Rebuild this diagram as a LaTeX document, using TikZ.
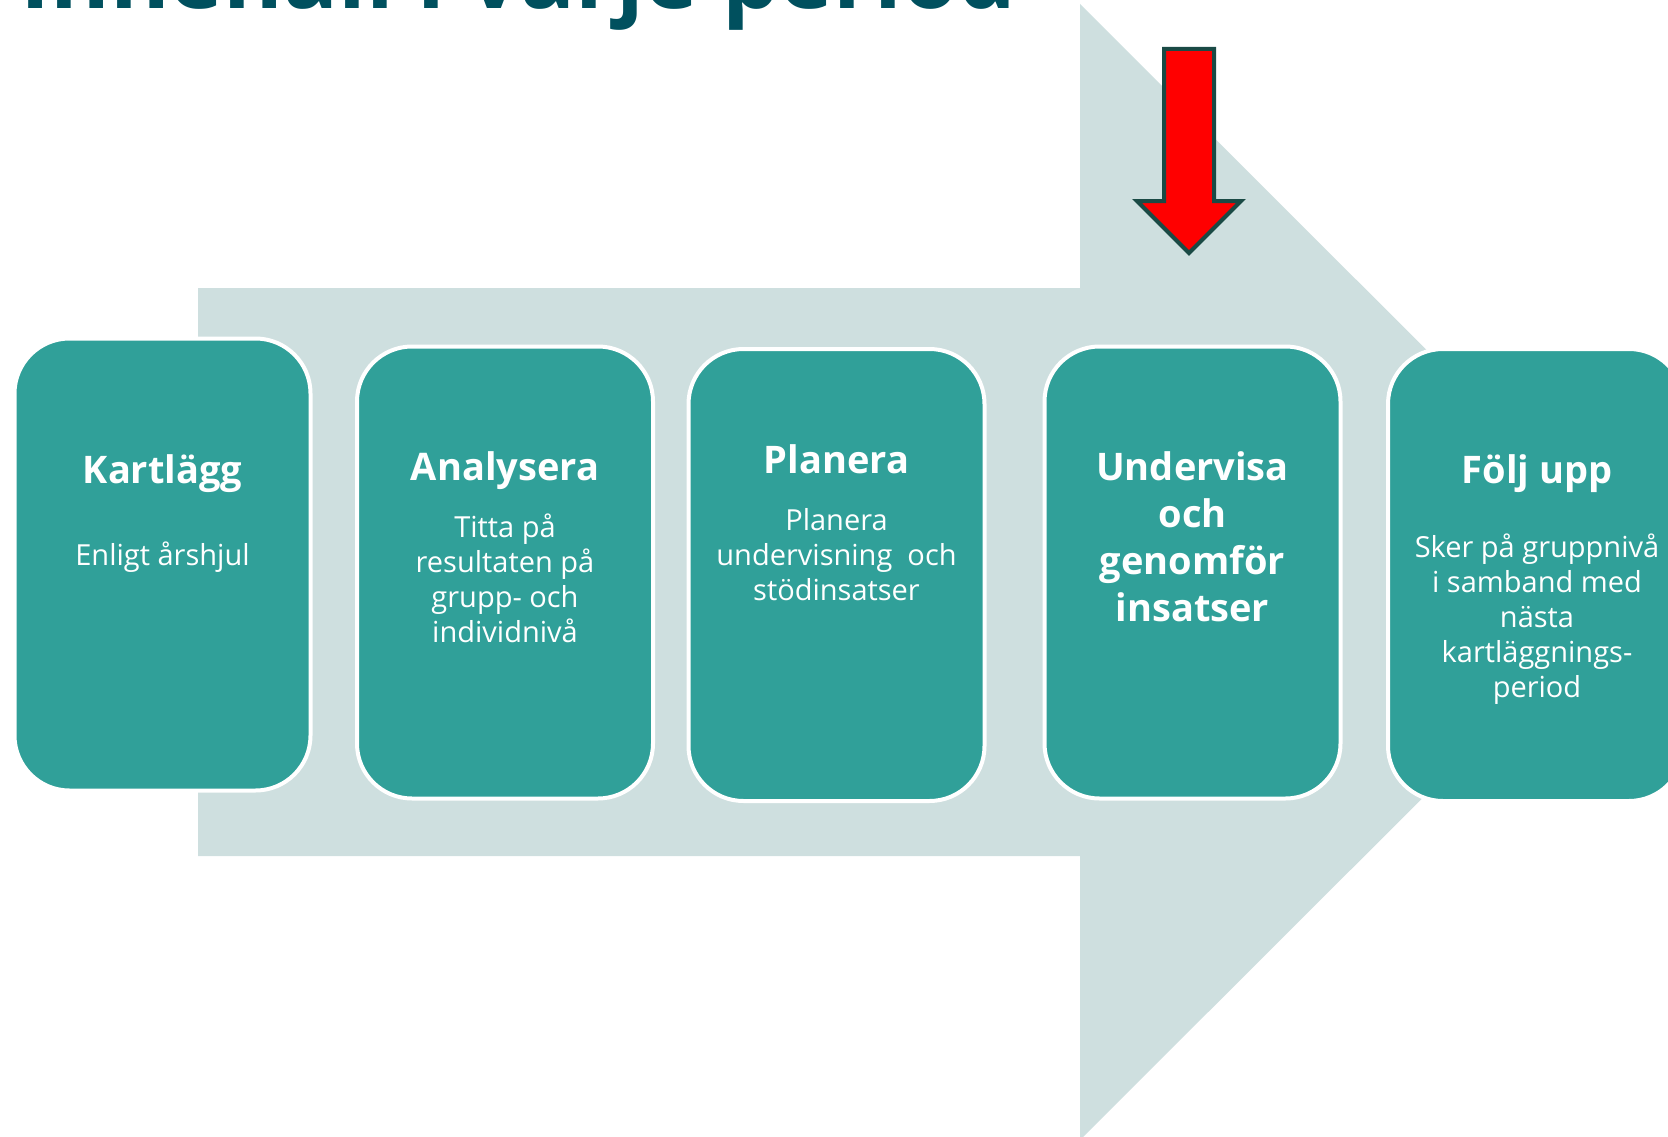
\documentclass[tikz,border=0pt]{standalone}
\usepackage{fontspec}
\setmainfont{Open Sans}
\definecolor{arrowbg}{HTML}{CEDFDF}
\definecolor{boxteal}{HTML}{30A099}
\definecolor{titleteal}{HTML}{00505E}
\definecolor{redfill}{HTML}{FF0000}
\definecolor{redline}{HTML}{1A4A45}
\tikzset{
  stepbox/.style={draw=white, line width=4pt, fill=boxteal, rounded corners=55pt,
    minimum width=296pt, minimum height=452pt, inner sep=0pt},
  headtxt/.style={text=white, anchor=base, inner sep=0pt, font=\fontsize{38}{47}\selectfont\bfseries},
  bodytxt/.style={text=white, anchor=base, inner sep=0pt, font=\fontsize{29}{35}\selectfont},
}
\newcommand{\lines}[1]{{\setlength{\tabcolsep}{0pt}\begin{tabular}[t]{c}#1\end{tabular}}}
\begin{document}
\begin{tikzpicture}[x=1pt,y=-1pt]
\useasboundingbox (0,0) rectangle (1668,1137);
\begin{scope}
\clip (0,0) rectangle (1668,1137);
% big background arrow
\fill[arrowbg] (198,288) -- (1080,288) -- (1080,4) -- (1649,572) -- (1080,1140) -- (1080,856) -- (198,856) -- cycle;
% title (cut off at top)
\node[anchor=base west, inner sep=0pt, text=titleteal, font=\fontsize{91}{100}\selectfont\bfseries] (title) at (20,9) {Innehåll i varje period};
% boxes
\node[stepbox] (b1) at (162.5,564.5) {};
\node[stepbox] (b2) at (505,572.5) {};
\node[stepbox] (b3) at (836.5,575) {};
\node[stepbox] (b4) at (1192.5,572.5) {};
\node[stepbox] (b5) at (1536,575) {};
\end{scope}
% texts
\node[headtxt] (t1) at (162.5,483) {Kartlägg};
\node[bodytxt] (d1) at (162.5,565) {Enligt årshjul};
\node[headtxt] (t2) at (505,480) {Analysera};
\node[bodytxt] (d2) at (505,537) {\lines{Titta på\\resultaten på\\grupp- och\\individnivå}};
\node[headtxt] (t3) at (836.5,473) {Planera};
\node[bodytxt] (d3) at (836.5,530) {\lines{Planera\\undervisning\ \ och\\stödinsatser}};
\node[headtxt] (t4) at (1192.5,480) {\lines{Undervisa\\och\\genomför\\insatser}};
\node[headtxt] (t5) at (1537,483) {Följ upp};
\node[bodytxt] (d5) at (1537,557) {\lines{Sker på gruppnivå\\i samband med\\nästa\\kartläggnings-\\period}};
% red arrow
\draw[fill=redfill, draw=redline, line width=4pt, miter limit=10]
  (1164,49) -- (1214,49) -- (1214,201) -- (1241,201) -- (1189,253) -- (1137,201) -- (1164,201) -- cycle;
\end{tikzpicture}
\end{document}
